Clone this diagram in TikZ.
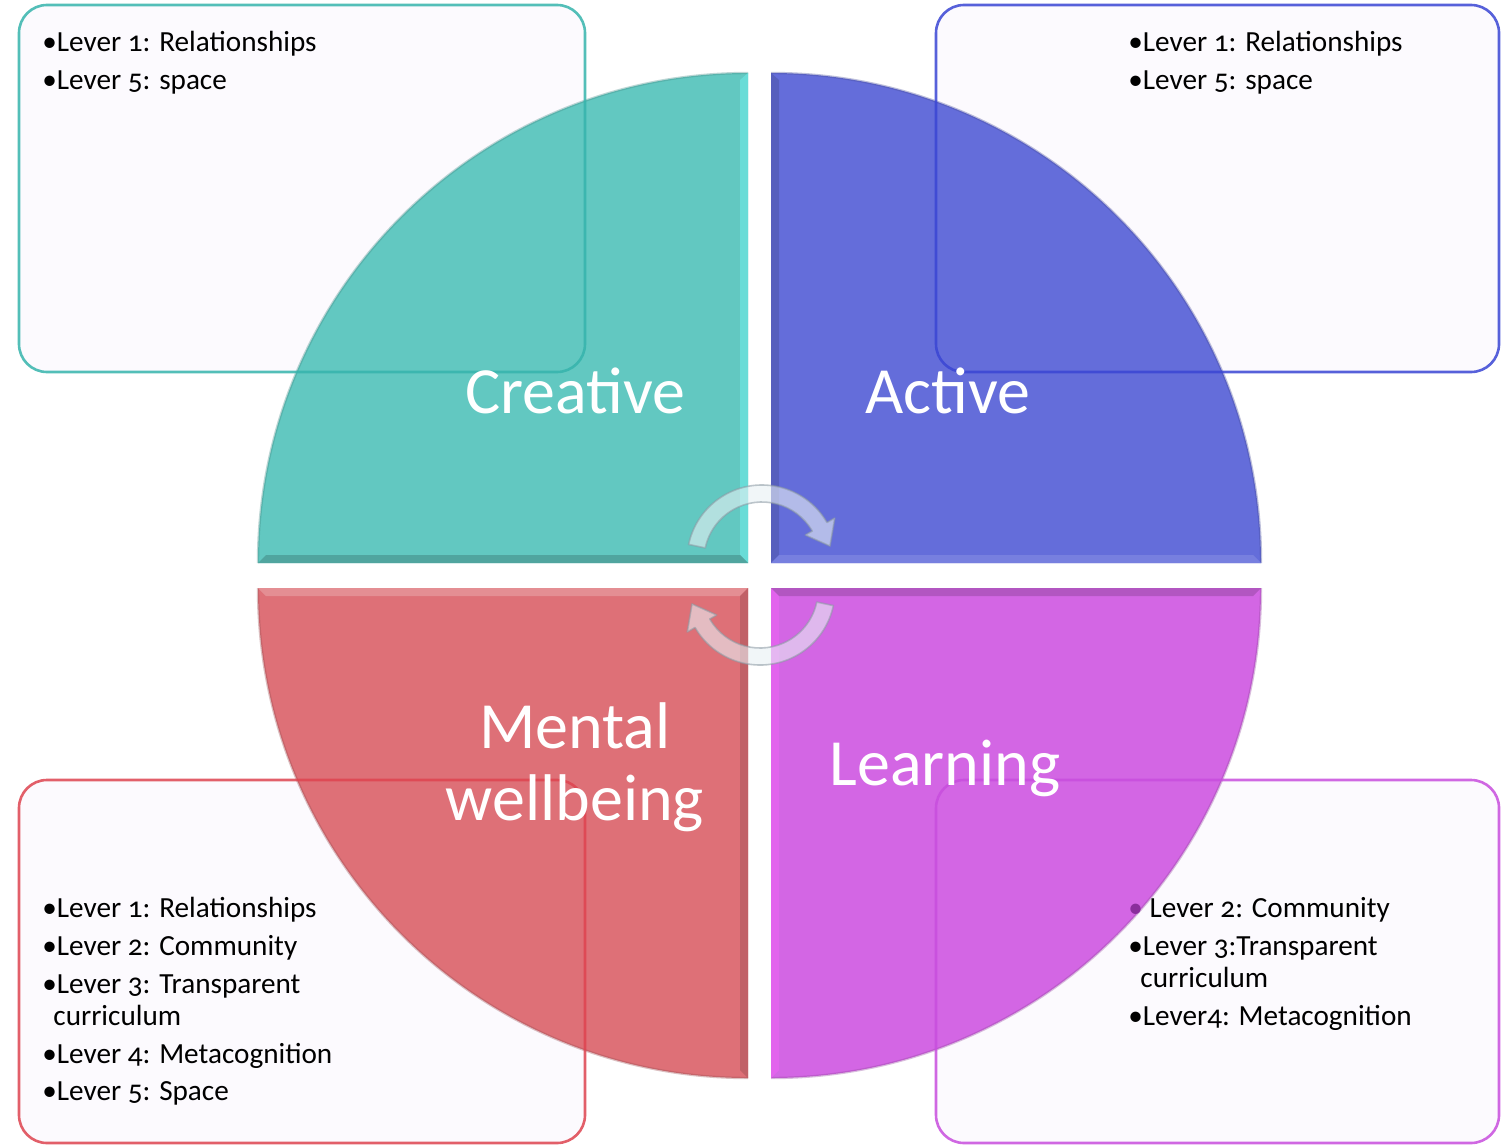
\documentclass[tikz,border=0pt]{standalone}
\usepackage{fontspec}
\setmainfont{Carlito}[Numbers=OldStyle]
\definecolor{boxbg}{HTML}{FCFAFE}
\definecolor{qteal}{HTML}{62C8C1}
\definecolor{qblue}{HTML}{646DDA}
\definecolor{qred}{HTML}{DE7077}
\definecolor{qpurple}{HTML}{D366E4}
\definecolor{lteal}{HTML}{36B4AC}
\definecolor{lblue}{HTML}{3A46D4}
\definecolor{lred}{HTML}{DE4450}
\definecolor{lpurple}{HTML}{C84EDE}
\definecolor{arrowfill}{HTML}{E8F0F4}
\definecolor{arrowline}{HTML}{8A98A2}
\definecolor{bulletpurple}{HTML}{8A2E9C}
\begin{document}
\begin{tikzpicture}[x=0.5pt,y=-0.5pt,
  boxfill/.style={fill=boxbg, draw=none, rounded corners=14pt},
  boxline/.style={draw=#1, line width=1.3pt, rounded corners=14pt, draw opacity=0.85},
  quad/.style={fill=#1, draw=none},
  qedge/.style={draw=#1, line width=1.2pt, draw opacity=0.35},
  strip/.style={fill=#1, draw=none, fill opacity=0.85},
  lev/.style={anchor=base west, inner sep=0pt, font=\fontsize{14.6}{19}\selectfont},
  big/.style={anchor=base, text=white, inner sep=0pt, font=\fontsize{33}{36}\selectfont},
  cyc/.style={fill=arrowfill, fill opacity=0.6, draw=arrowline, draw opacity=0.55, line width=0.8pt, line join=round}]
\useasboundingbox (0,0) rectangle (1502,1145);
\fill[white] (0,0) rectangle (1502,1145);

% box backgrounds
\path[boxfill] (19,5) rectangle (585,372);
\path[boxfill] (936,5) rectangle (1499,372);
\path[boxfill] (19,780) rectangle (585,1143);
\path[boxfill] (936,780) rectangle (1499,1143);

% quadrants
\path[quad=qteal] (748,563) -- (258,563) arc[start angle=-180, end angle=-90, radius=490] -- cycle;
\path[quad=qblue] (771,563) -- (771,73) arc[start angle=-90, end angle=0, radius=490] -- cycle;
\path[quad=qred] (748,588) -- (258,588) arc[start angle=180, end angle=90, radius=490] -- cycle;
\path[quad=qpurple] (771,588) -- (1261,588) arc[start angle=0, end angle=90, radius=490] -- cycle;
\draw[qedge=qteal!70!black] (258,563) arc[start angle=-180, end angle=-90, radius=490];
\draw[qedge=qblue!70!black] (771,73) arc[start angle=-90, end angle=0, radius=490];
\draw[qedge=qred!70!black] (258,588) arc[start angle=180, end angle=90, radius=490];
\draw[qedge=qpurple!70!black] (1261,588) arc[start angle=0, end angle=90, radius=490];

% bevel strips
\path[strip={qteal!70!cyan!80!white}] (748,73) -- (748,563) -- (740,555) -- (740,80) -- cycle;
\path[strip={qteal!80!black}] (258,563) -- (748,563) -- (740,555) -- (266,555) -- cycle;
\path[strip={qblue!85!black}] (771,73) -- (771,563) -- (779,555) -- (779,80) -- cycle;
\path[strip={qblue!85!white}] (771,563) -- (1261,563) -- (1253,555) -- (779,555) -- cycle;
\path[strip={qred!75!white}] (258,588) -- (748,588) -- (740,596) -- (266,596) -- cycle;
\path[strip={qred!85!black}] (748,588) -- (748,1078) -- (740,1070) -- (740,596) -- cycle;
\path[strip={qpurple!70!magenta!85!white}] (771,588) -- (771,1078) -- (779,1070) -- (779,596) -- cycle;
\path[strip={qpurple!82!black}] (771,588) -- (1261,588) -- (1253,596) -- (779,596) -- cycle;

% box borders
\draw[boxline=lteal] (19,5) rectangle (585,372);
\draw[boxline=lblue] (936,5) rectangle (1499,372);
\draw[boxline=lred] (19,780) rectangle (585,1143);
\draw[boxline=lpurple] (936,780) rectangle (1499,1143);

% cycle arrows
\begin{scope}[shift={(762,560)}]
\path[cyc] (-168:75) arc[start angle=-168, end angle=-30, radius=75] -- (-30:84) -- (-11.6:69.4) -- (-30:50) -- (-30:58) arc[start angle=-30, end angle=-168, radius=58] -- cycle;
\end{scope}
\begin{scope}[shift={(760,590)}]
\path[cyc] (12:75) arc[start angle=12, end angle=150, radius=75] -- (150:84) -- (168.4:69.4) -- (150:50) -- (150:58) arc[start angle=150, end angle=12, radius=58] -- cycle;
\end{scope}

% big labels
\node[big] (creative) at (575,413) {Creative};
\node[big] (active) at (948,413) {Active};
\node[big] (mental) at (575,748) {Mental};
\node[big] (wellbeing) at (575,820) {wellbeing};
\node[big] (learning) at (945,785) {Learning};

% box texts
\node[lev] (tl1) at (42,52) {•Lever 1: Relationships};
\node[lev] (tl2) at (42,90) {•Lever 5: space};
\node[lev] (tr1) at (1128,52) {•Lever 1: Relationships};
\node[lev] (tr2) at (1128,90) {•Lever 5: space};
\node[lev] (bl1) at (42,917) {•Lever 1: Relationships};
\node[lev] (bl2) at (42,955) {•Lever 2: Community};
\node[lev] (bl3) at (42,993) {•Lever 3: Transparent};
\node[lev] (bl3b) at (53,1025) {curriculum};
\node[lev] (bl4) at (42,1063) {•Lever 4: Metacognition};
\node[lev] (bl5) at (42,1100) {•Lever 5: Space};
\node[lev] (br1) at (1128,917) {{\color{bulletpurple}•} Lever 2: Community};
\node[lev] (br2) at (1128,955) {•Lever 3:Transparent};
\node[lev] (br2b) at (1140,987) {curriculum};
\node[lev] (br3) at (1128,1025) {•Lever4: Metacognition};
\end{tikzpicture}
\end{document}
